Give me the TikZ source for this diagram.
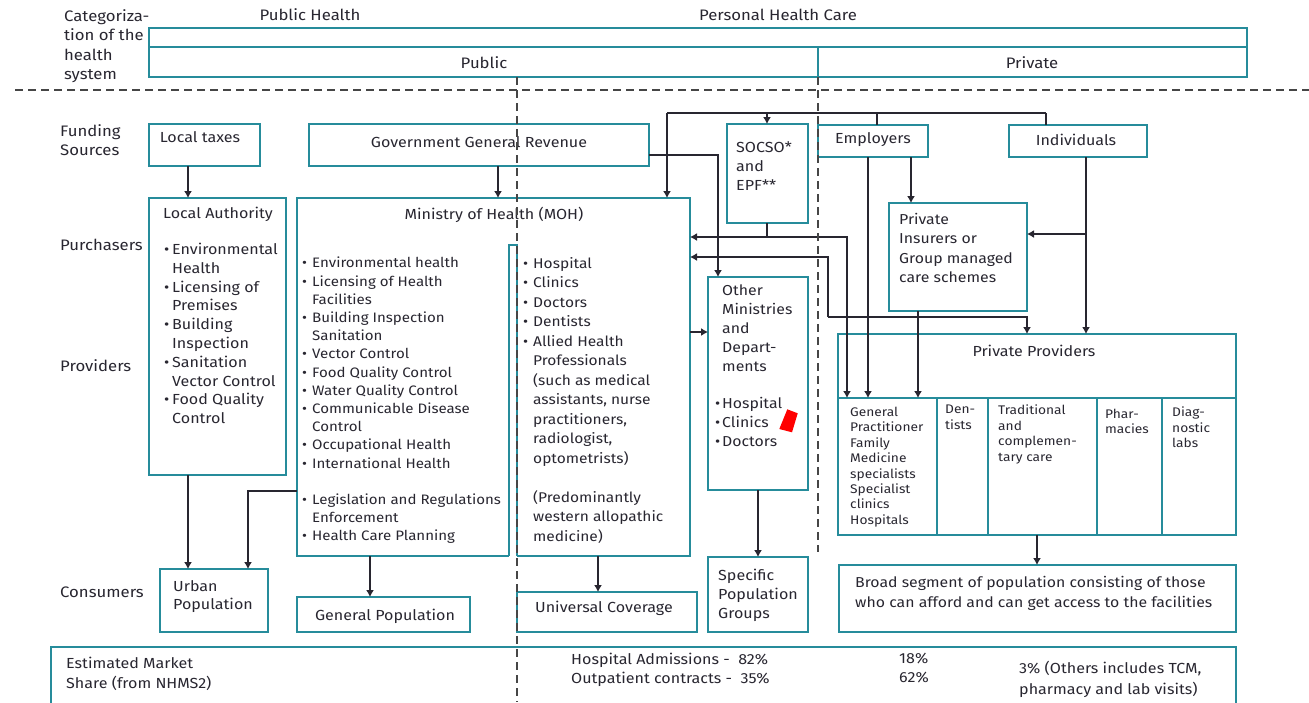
\documentclass[tikz,border=0pt]{standalone}
\usepackage{fontspec}
\setmainfont{Fira Sans}[FakeStretch=1.1]
\usetikzlibrary{arrows.meta}
\definecolor{tealline}{RGB}{38,140,155}
\definecolor{ink}{RGB}{40,38,48}
\definecolor{dashgray}{RGB}{70,70,70}
% box from (x1,y1) to (x2,y2), named
\newcommand{\hsbox}[5]{\node[box,minimum width={#4-#2},minimum height={#5-#3}] (#1) at (#2,#3) {};}
\newcommand{\bitem}{\makebox[10pt][l]{\textbullet}}
\newcommand{\bcont}{\hspace*{10pt}}
\tikzset{
  box/.style={draw=tealline,line width=1.2pt,inner sep=0pt,outer sep=0pt,anchor=north west},
  txt/.style={anchor=north west,align=left,inner sep=0pt,text=ink,font=\fontsize{14.6}{18.8}\selectfont},
  ctxt/.style={txt,anchor=center},
  hdtxt/.style={txt,font=\fontsize{15.2}{19.6}\selectfont},
  celltxt/.style={txt,font=\fontsize{12.5}{15.4}\selectfont},
  arr/.style={draw=ink,line width=1.3pt,-{Latex[length=7pt,width=8pt]}},
  ln/.style={draw=ink,line width=1.3pt},
  divider/.style={draw=dashgray,line width=1.3pt,dash pattern=on 8pt off 5pt},
}
\begin{document}
\begin{tikzpicture}[x=1pt,y=-1pt]
    \useasboundingbox (0,0) rectangle (1309,702);

    % Categorization header
    \node[hdtxt] (cat) at (64,9) {Categoriza-\\tion of the\\health\\system};
    \node[hdtxt,anchor=center] (phl) at (310,15) {Public Health};
    \node[hdtxt,anchor=center] (phc) at (778,15) {Personal Health Care};
    \hsbox{catTop}{149}{28}{1247}{47}
    \hsbox{catPub}{149}{47}{818}{77}
    \hsbox{catPri}{818}{47}{1247}{77}
    \node[hdtxt,anchor=center] (pub) at (484,63) {Public};
    \node[hdtxt,anchor=center] (pri) at (1032,63) {Private};

    % Row labels
    \node[hdtxt] (rFund) at (60,124) {Funding\\Sources};
    \node[hdtxt] (rPurch) at (60,239) {Purchasers};
    \node[hdtxt] (rProv) at (60,359) {Providers};
    \node[hdtxt] (rCons) at (60,587) {Consumers};

    % Funding sources
    \hsbox{lt}{149}{124}{260}{166}
    \node[ctxt] (ltT) at (200,137) {Local taxes};
    \hsbox{ggr}{309}{124}{649}{166}
    \node[ctxt] (ggrT) at (479,142) {Government General Revenue};
    \hsbox{socso}{727}{124}{808}{223}
    \node[txt] (socsoT) at (736,142) {SOCSO*\\and\\EPF**};
    \hsbox{emp}{818}{125}{928}{157}
    \node[ctxt] (empT) at (873,140) {Employers};
    \hsbox{ind}{1009}{125}{1147}{157}
    \node[ctxt] (indT) at (1076,140) {Individuals};

    % Local Authority
    \hsbox{la}{149}{198}{286}{475}
    \node[ctxt] (laT) at (218,214) {Local Authority};
    \node[txt] (laL) at (164,243) {\makebox[8pt][l]{\textbullet}Environmental\\\hspace*{8pt}Health\\\makebox[8pt][l]{\textbullet}Licensing of\\\hspace*{8pt}Premises\\\makebox[8pt][l]{\textbullet}Building\\\hspace*{8pt}Inspection\\\makebox[8pt][l]{\textbullet}Sanitation\\\hspace*{8pt}Vector Control\\\makebox[8pt][l]{\textbullet}Food Quality\\\hspace*{8pt}Control};

    % Ministry of Health
    \hsbox{moh}{297}{198}{690}{556}
    \fill[white] (509,245) rectangle (517,558);
    \draw[draw=tealline,line width=1.2pt] (509,556) -- (509,245) -- (517,245) -- (517,556);
    \node[ctxt] (mohT) at (494,215) {Ministry of Health (MOH)};
    \node[txt,font=\fontsize{13.7}{18.2}\selectfont] (mohL) at (302,257) {\bitem Environmental health\\\bitem Licensing of Health\\\bcont Facilities\\\bitem Building Inspection\\\bcont Sanitation\\\bitem Vector Control\\\bitem Food Quality Control\\\bitem Water Quality Control\\\bitem Communicable Disease\\\bcont Control\\\bitem Occupational Health\\\bitem International Health\\[18.2pt]\bitem Legislation and Regulations\\\bcont Enforcement\\\bitem Health Care Planning};
    \node[txt,font=\fontsize{14.1}{19.5}\selectfont] (mohR) at (523,257) {\bitem Hospital\\\bitem Clinics\\\bitem Doctors\\\bitem Dentists\\\bitem Allied Health\\\bcont Professionals\\\bcont (such as medical\\\bcont assistants, nurse\\\bcont practitioners,\\\bcont radiologist,\\\bcont optometrists)\\[19.5pt]\bcont (Predominantly\\\bcont western allopathic\\\bcont medicine)};

    % Other ministries
    \hsbox{om}{708}{277}{808}{490}
    \node[txt,font=\fontsize{14.4}{19}\selectfont] (omT) at (715,285) {\hspace*{7pt}Other\\\hspace*{7pt}Ministries\\\hspace*{7pt}and\\\hspace*{7pt}Depart-\\\hspace*{7pt}ments\\[18pt]\makebox[7pt][l]{\textbullet}Hospital\\\makebox[7pt][l]{\textbullet}Clinics\\\makebox[7pt][l]{\textbullet}Doctors};
    \fill[red] (787.3,409.3) -- (797.7,413.3) -- (792,432.3) -- (779.3,429) -- cycle;

    % Private side
    \hsbox{pin}{889}{203}{1027}{311}
    \node[txt,font=\fontsize{14.4}{19.3}\selectfont] (pinT) at (899,213) {Private\\Insurers or\\Group managed\\care schemes};
    \hsbox{pp}{838}{334}{1236}{398}
    \node[ctxt] (ppT) at (1034,351) {Private Providers};
    \hsbox{ppGP}{838}{398}{937}{535}
    \hsbox{ppDen}{937}{398}{988}{535}
    \hsbox{ppTrad}{988}{398}{1097}{535}
    \hsbox{ppPhar}{1097}{398}{1162}{535}
    \hsbox{ppDiag}{1162}{398}{1236}{535}
    \node[celltxt] (ppGPT) at (850,407) {General\\Practitioner\\Family\\Medicine\\specialists\\Specialist\\clinics\\Hospitals};
    \node[celltxt] (ppDenT) at (945,405) {Den-\\tists};
    \node[celltxt] (ppTradT) at (998,405) {Traditional\\and\\complemen-\\tary care};
    \node[celltxt] (ppPharT) at (1105,409) {Phar-\\macies};
    \node[celltxt] (ppDiagT) at (1172,407) {Diag-\\nostic\\labs};

    % Consumers
    \hsbox{urb}{160}{569}{268}{632}
    \node[txt] (urbT) at (173,580) {Urban\\Population};
    \hsbox{gen}{297}{597}{470}{632}
    \node[ctxt] (genT) at (385,616) {General Population};
    \hsbox{uni}{517}{592}{697}{632}
    \node[ctxt] (uniT) at (604,608) {Universal Coverage};
    \hsbox{spg}{708}{557}{808}{632}
    \node[txt] (spgT) at (718,569) {Specific\\Population\\Groups};
    \hsbox{brd}{839}{565}{1236}{632}
    \node[txt,font=\fontsize{14.4}{20.5}\selectfont] (brdT) at (855,576) {Broad segment of population consisting of those\\who can afford and can get access to the facilities};

    % Market share
    \draw[draw=tealline,line width=1.2pt] (51,706) -- (51,647) -- (1236,647) -- (1236,706);
    \node[txt,font=\fontsize{14.6}{20}\selectfont] (msT) at (66,657) {Estimated Market\\Share (from NHMS2)};
    \node[txt] (msPub) at (571,653) {Hospital Admissions -~ 82\%\\Outpatient contracts -~ 35\%};
    \node[txt] (msPri) at (899,653) {18\%\\62\%};
    \node[txt,font=\fontsize{14.6}{21}\selectfont] (msOth) at (1019,661) {3\% (Others includes TCM,\\pharmacy and lab visits)};

    % Funding flows
    \coordinate (busL) at (667,113);
    \coordinate (busR) at (1046,113);
    \draw[ln] (busL) -- (busR);
    \draw[arr] (188,0 |- lt.south) -- (188,0 |- la.north);
    \draw[arr] (498,0 |- ggr.south) -- (498,0 |- moh.north);
    \draw[arr] (busL) -- (667,0 |- moh.north);
    \draw[arr] (767,113) -- (767,0 |- socso.north);
    \draw[ln] (877,113) -- (877,0 |- emp.north);
    \draw[ln] (busR) -- (1046,0 |- ind.north);
    \draw[arr] (ggr.east |- 0,155) -| (718,0 |- om.north);

    % SOCSO and cross flows
    \coordinate (sj) at (767,237);
    \draw[arr] (767,0 |- socso.south) |- (moh.east |- sj);
    \draw[arr] (sj) -| (847,0 |- ppGP.north);
    \coordinate (pj) at (828,317);
    \draw[arr] (pj) |- (moh.east |- 0,257);
    \draw[arr] (pj) -| (1027,0 |- pp.north);

    % Private flows
    \draw[arr] (868,0 |- emp.south) -- (868,0 |- ppGP.north);
    \draw[arr] (911,0 |- emp.south) -- (911,0 |- pin.north);
    \draw[arr] (1086,0 |- ind.south) -- (1086,0 |- pp.north);
    \draw[arr] (1086,234) -- (pin.east |- 0,234);
    \draw[arr] (918,0 |- pin.south) -- (918,0 |- ppGP.north);
    \draw[arr] (moh.east |- 0,332) -- (om.west |- 0,332);

    % To consumers
    \draw[arr] (188,0 |- la.south) -- (188,0 |- urb.north);
    \draw[arr] (moh.west |- 0,491) -| (248,0 |- urb.north);
    \draw[arr] (370,0 |- moh.south) -- (370,0 |- gen.north);
    \draw[arr] (598,0 |- moh.south) -- (598,0 |- uni.north);
    \draw[arr] (758,0 |- om.south) -- (758,0 |- spg.north);
    \draw[arr] (1037,0 |- ppTrad.south) -- (1037,0 |- brd.north);

    % Dividers
    \draw[divider] (15,90) -- (1309,90);
    \draw[divider] (517,77) -- (517,702);
    \draw[divider] (818,77) -- (818,552);
\end{tikzpicture}
\end{document}
